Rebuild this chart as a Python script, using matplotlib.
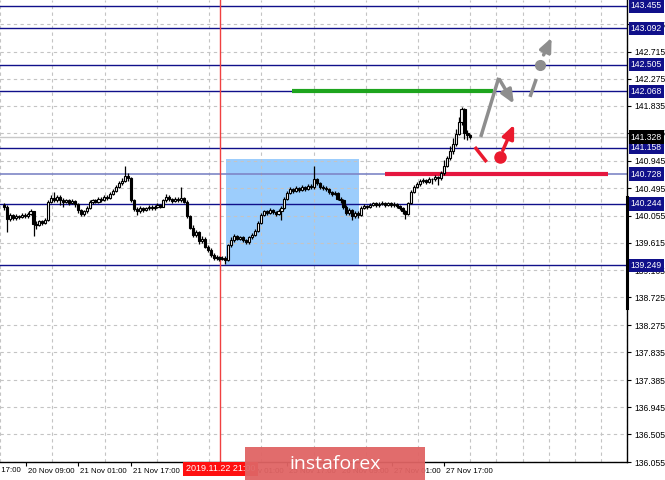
import matplotlib
matplotlib.use("Agg")
import matplotlib.pyplot as plt
from matplotlib.patches import Rectangle
from matplotlib import transforms

# hourly candles (USD/JPY style)
opens = [140.22, 140.20, 140.00, 140.06, 140.02, 140.05, 140.03, 140.07, 140.04, 140.08,
         140.12, 139.92, 139.90, 139.96, 139.94, 139.98, 140.28, 140.34, 140.30, 140.36,
         140.31, 140.28, 140.30, 140.26, 140.29, 140.24, 140.14, 140.08, 140.12, 140.18,
         140.27, 140.30, 140.28, 140.33, 140.31, 140.36, 140.34, 140.40, 140.46, 140.52,
         140.58, 140.62, 140.70, 140.66, 140.30, 140.16, 140.12, 140.18, 140.14, 140.17,
         140.20, 140.17, 140.19, 140.22, 140.20, 140.30, 140.36, 140.32, 140.29, 140.33,
         140.30, 140.34, 140.28, 140.05, 139.86, 139.74, 139.78, 139.64, 139.68, 139.55,
         139.50, 139.42, 139.36, 139.38, 139.35, 139.37, 139.34, 139.58, 139.66, 139.72,
         139.68, 139.70, 139.66, 139.62, 139.70, 139.74, 139.80, 139.94, 140.06, 140.12,
         140.10, 140.14, 140.11, 140.08, 140.13, 140.18, 140.32, 140.42, 140.48, 140.45,
         140.50, 140.47, 140.52, 140.49, 140.54, 140.51, 140.64, 140.58, 140.52, 140.50,
         140.48, 140.44, 140.40, 140.42, 140.33, 140.30, 140.20, 140.10, 140.14, 140.04,
         140.10, 140.06, 140.18, 140.21, 140.19, 140.23, 140.25, 140.22, 140.24, 140.26,
         140.23, 140.25, 140.22, 140.24, 140.21, 140.18, 140.12, 140.08, 140.26, 140.44,
         140.52, 140.56, 140.61, 140.63, 140.60, 140.65, 140.64, 140.68, 140.66, 140.74,
         140.86, 140.98, 141.10, 141.22, 141.38, 141.58, 141.78, 141.40, 141.36]
highs = [140.26, 140.22, 140.09, 140.08, 140.08, 140.07, 140.10, 140.09, 140.11, 140.16,
         140.13, 139.96, 139.99, 139.98, 140.01, 140.30, 140.38, 140.43, 140.39, 140.38,
         140.34, 140.33, 140.32, 140.33, 140.31, 140.26, 140.16, 140.15, 140.21, 140.30,
         140.33, 140.32, 140.36, 140.35, 140.39, 140.38, 140.43, 140.49, 140.55, 140.62,
         140.66, 140.86, 140.74, 140.68, 140.32, 140.19, 140.21, 140.20, 140.20, 140.23,
         140.22, 140.22, 140.25, 140.24, 140.33, 140.40, 140.38, 140.34, 140.36, 140.35,
         140.52, 140.36, 140.30, 140.07, 139.90, 139.82, 139.80, 139.72, 139.70, 139.58,
         139.53, 139.44, 139.41, 139.40, 139.40, 139.39, 139.60, 139.70, 139.76, 139.74,
         139.73, 139.72, 139.68, 139.73, 139.77, 139.83, 139.97, 140.09, 140.15, 140.14,
         140.17, 140.16, 140.13, 140.16, 140.21, 140.35, 140.45, 140.51, 140.50, 140.53,
         140.52, 140.55, 140.54, 140.57, 140.56, 140.86, 140.67, 140.60, 140.55, 140.53,
         140.50, 140.46, 140.45, 140.44, 140.35, 140.32, 140.22, 140.17, 140.16, 140.13,
         140.12, 140.21, 140.24, 140.23, 140.26, 140.28, 140.27, 140.27, 140.29, 140.28,
         140.28, 140.27, 140.27, 140.26, 140.23, 140.20, 140.15, 140.28, 140.47, 140.55,
         140.60, 140.64, 140.66, 140.65, 140.68, 140.67, 140.71, 140.70, 140.78, 140.96,
         141.02, 141.18, 141.32, 141.46, 141.66, 141.82, 141.80, 141.44, 141.38]
lows = [140.15, 139.78, 139.96, 139.98, 139.99, 140.00, 140.01, 140.01, 140.02, 140.06,
        139.72, 139.84, 139.88, 139.90, 139.92, 139.97, 140.25, 140.27, 140.28, 140.22,
        140.20, 140.25, 140.22, 140.24, 140.20, 140.10, 140.04, 140.05, 140.10, 140.16,
        140.24, 140.25, 140.26, 140.28, 140.29, 140.31, 140.32, 140.38, 140.44, 140.50,
        140.55, 140.60, 140.62, 140.27, 140.12, 140.07, 140.10, 140.11, 140.12, 140.15,
        140.14, 140.15, 140.17, 140.17, 140.19, 140.28, 140.29, 140.26, 140.27, 140.27,
        140.28, 140.25, 140.02, 139.83, 139.70, 139.71, 139.60, 139.61, 139.52, 139.46,
        139.38, 139.33, 139.33, 139.32, 139.33, 139.27, 139.32, 139.55, 139.63, 139.65,
        139.65, 139.63, 139.59, 139.60, 139.68, 139.72, 139.78, 139.92, 140.04, 140.07,
        140.08, 140.08, 140.05, 140.06, 139.98, 140.16, 140.30, 140.40, 140.42, 140.43,
        140.44, 140.45, 140.46, 140.47, 140.48, 140.49, 140.55, 140.49, 140.47, 140.45,
        140.41, 140.37, 140.38, 140.30, 140.26, 140.16, 140.06, 140.07, 139.98, 140.02,
        140.02, 140.04, 140.16, 140.16, 140.17, 140.21, 140.19, 140.20, 140.22, 140.20,
        140.21, 140.19, 140.20, 140.18, 140.15, 140.08, 140.00, 140.06, 140.24, 140.42,
        140.50, 140.54, 140.58, 140.57, 140.58, 140.56, 140.61, 140.55, 140.63, 140.72,
        140.84, 140.96, 141.06, 141.18, 141.36, 141.52, 141.30, 141.28, 141.30]
closes = [140.20, 140.00, 140.06, 140.02, 140.05, 140.03, 140.07, 140.04, 140.08, 140.12,
          139.92, 139.90, 139.96, 139.94, 139.98, 140.28, 140.34, 140.30, 140.36, 140.31,
          140.28, 140.30, 140.26, 140.29, 140.24, 140.14, 140.08, 140.12, 140.18, 140.27,
          140.30, 140.28, 140.33, 140.31, 140.36, 140.34, 140.40, 140.46, 140.52, 140.58,
          140.62, 140.70, 140.66, 140.30, 140.16, 140.12, 140.18, 140.14, 140.17, 140.20,
          140.17, 140.19, 140.22, 140.20, 140.30, 140.36, 140.32, 140.29, 140.33, 140.30,
          140.34, 140.28, 140.05, 139.86, 139.74, 139.78, 139.64, 139.68, 139.55, 139.50,
          139.42, 139.36, 139.38, 139.35, 139.37, 139.34, 139.58, 139.66, 139.72, 139.68,
          139.70, 139.66, 139.62, 139.70, 139.74, 139.80, 139.94, 140.06, 140.12, 140.10,
          140.14, 140.11, 140.08, 140.13, 140.18, 140.32, 140.42, 140.48, 140.45, 140.50,
          140.47, 140.52, 140.49, 140.54, 140.51, 140.64, 140.58, 140.52, 140.50, 140.48,
          140.44, 140.40, 140.42, 140.33, 140.30, 140.20, 140.10, 140.14, 140.04, 140.10,
          140.06, 140.18, 140.21, 140.19, 140.23, 140.25, 140.22, 140.24, 140.26, 140.23,
          140.25, 140.22, 140.24, 140.21, 140.18, 140.12, 140.08, 140.26, 140.44, 140.52,
          140.56, 140.61, 140.63, 140.60, 140.65, 140.64, 140.68, 140.66, 140.74, 140.86,
          140.98, 141.10, 141.22, 141.38, 141.58, 141.78, 141.40, 141.36, 141.33]

levels = [143.455, 143.092, 142.505, 142.068, 141.158, 140.244, 139.249]
red_level = 140.728
green_level = 142.068
bid = 141.328
price_ticks = [143.155, 142.715, 142.275, 141.835, 141.395, 140.945, 140.495, 140.055,
               139.615, 139.165, 138.725, 138.275, 137.835, 137.385, 136.945, 136.505,
               136.055]
time_labels = ["20 Nov 09:00", "21 Nov 01:00", "21 Nov 17:00", "22 Nov 09:00",
               "25 Nov 01:00", "25 Nov 17:00", "26 Nov 09:00", "27 Nov 01:00",
               "27 Nov 17:00"]
time_pos = [7.5, 25.2, 42.9, 60.6, 78.3, 96.0, 113.7, 131.4, 149.1]
marker_time = 73.3
zone = (75.3, 120.1, 139.249, 140.972)

NAVY = "#10108a"
FONT = "Liberation Sans"
FS = 6.2
FSX = 5.7

fig = plt.figure(figsize=(6.65, 4.8), dpi=100)
ax = fig.add_axes([0, 18 / 480, 627 / 665, 462 / 480])
ax.set_xlim(-0.5, 209.0)
ax.set_ylim(136.055, 143.552)

# grid: horizontal at price ticks, vertical every half label step
ax.set_yticks(price_ticks)
ax.set_xticks(time_pos)
ax.set_xticks([-1.35 + 8.85 * k for k in range(0, 25)], minor=True)
ax.grid(True, which="minor", axis="x", color="#c4c4c4", ls=(0, (3, 3)), lw=0.8)
ax.grid(True, which="major", axis="y", color="#c4c4c4", ls=(0, (3, 3)), lw=0.8)
ax.set_axisbelow(True)

# blue zone
ax.add_patch(Rectangle((zone[0], zone[2]), zone[1] - zone[0], zone[3] - zone[2],
                       facecolor="#9ccdfc", edgecolor="none", zorder=0.5))

# horizontal levels
for lv in levels:
    ax.axhline(lv, color=NAVY, lw=1, zorder=2)
ax.axhline(red_level, color="#7e86c6", lw=1.2, zorder=2)
ax.axhline(bid, color="#c8c8c8", lw=1, zorder=2)
ax.axvline(marker_time, color="#f04040", lw=1, zorder=2)

ax.plot([97.4, 165.6], [green_level, green_level], color="#1ea51e", lw=3, zorder=2.5,
        solid_capstyle="butt")
ax.plot([129.1, 204.6], [red_level, red_level], color="#e5173f", lw=3, zorder=2.5,
        solid_capstyle="butt")

# candles
xs = list(range(len(closes)))
ax.vlines(xs, lows, highs, color="black", lw=0.9, zorder=3)
for x, o, c in zip(xs, opens, closes):
    up = c >= o
    ax.bar(x, max(abs(c - o), 0.004), bottom=min(o, c), width=0.72,
           facecolor="white" if up else "black", edgecolor="black", lw=0.8, zorder=4)

# forecast arrows
GRAY = "#8e8e8e"
RED = "#ea1a2e"
head = "-|>,head_length=0.8,head_width=0.35"
ax.plot([161.5, 167.6], [141.33, 142.29], color=GRAY, lw=2.5, zorder=5, solid_capstyle="butt")
ax.annotate("", xy=(173.2, 141.83), xytext=(167.4, 142.30),
            arrowprops=dict(arrowstyle=head, color=GRAY, lw=2.5), zorder=5)
ax.plot([178.2, 180.3], [141.98, 142.27], color=GRAY, lw=2.5, zorder=5, solid_capstyle="butt")
ax.plot([181.6], [142.50], "o", color=GRAY, ms=7, zorder=5)
ax.annotate("", xy=(185.9, 142.98), xytext=(182.4, 142.62),
            arrowprops=dict(arrowstyle=head, color=GRAY, lw=2.5), zorder=5)
ax.plot([159.5, 163.5], [141.167, 140.923], color=RED, lw=2.5, zorder=5, solid_capstyle="butt")
ax.plot([167.9], [141.005], "o", color=RED, ms=8, zorder=5)
ax.annotate("", xy=(173.2, 141.57), xytext=(168.6, 141.07),
            arrowprops=dict(arrowstyle=head, color=RED, lw=2.5), zorder=5)

# axes styling
for s in ["left", "top"]:
    ax.spines[s].set_visible(False)
for s in ["right", "bottom"]:
    ax.spines[s].set_color("black")
    ax.spines[s].set_linewidth(1)
ax.yaxis.tick_right()
ax.tick_params(axis="y", which="major", length=3, pad=2, labelsize=FS, colors="black")
ax.tick_params(axis="x", which="major", length=3, pad=1.5, labelsize=FSX)
ax.tick_params(axis="x", which="minor", length=0)
ax.set_yticklabels([f"{v:.3f}" for v in price_ticks], fontfamily=FONT)
ax.set_xticklabels(time_labels, fontfamily=FONT)
shift = transforms.ScaledTranslation(2 / 100, 0, fig.dpi_scale_trans)
for lbl in ax.get_xticklabels():
    lbl.set_horizontalalignment("left")
    lbl.set_transform(lbl.get_transform() + shift)
trx = transforms.blended_transform_factory(ax.transData, ax.transAxes)
ax.text(-10.9, -0.0115, "19 Nov 17:00", transform=trx + shift,
        fontsize=FSX, fontfamily=FONT, va="top", ha="left", clip_on=False)

# right thick bar on the price scale
ax.plot([1, 1], [0.333, 0.574], transform=ax.transAxes, color="black", lw=2.2,
        clip_on=False, zorder=6)

# boxed price labels
tr = transforms.blended_transform_factory(ax.transAxes, ax.transData)
for lv in levels + [red_level]:
    ax.text(1.006, lv, f"{lv:.3f}", transform=tr, fontsize=FS, fontfamily=FONT,
            color="white", va="center", ha="left", clip_on=False, zorder=10,
            bbox=dict(boxstyle="square,pad=0.25", facecolor=NAVY, edgecolor="none"))
ax.text(1.006, bid, f"{bid:.3f}", transform=tr, fontsize=FS, fontfamily=FONT,
        color="white", va="center", ha="left", clip_on=False, zorder=10,
        bbox=dict(boxstyle="square,pad=0.25", facecolor="black", edgecolor="none"))

# red date tag
ax.text(marker_time, -0.015, "2019.11.22 21:00", transform=trx, fontsize=FS + 0.3,
        fontfamily=FONT, color="white", va="center", ha="center", clip_on=False, zorder=10,
        bbox=dict(boxstyle="square,pad=0.3", facecolor="#ff1010", edgecolor="none"))

# watermark
fig.add_artist(Rectangle((245 / 665, 0), 180 / 665, 33 / 480, transform=fig.transFigure,
                         facecolor="#e06464", edgecolor="none", alpha=0.95, zorder=20))
fig.text(335 / 665, 16 / 480, "instaforex", color="white", fontsize=14,
         fontfamily="Open Sans", ha="center", va="center", zorder=21)

fig.savefig("out.png", dpi=100)
